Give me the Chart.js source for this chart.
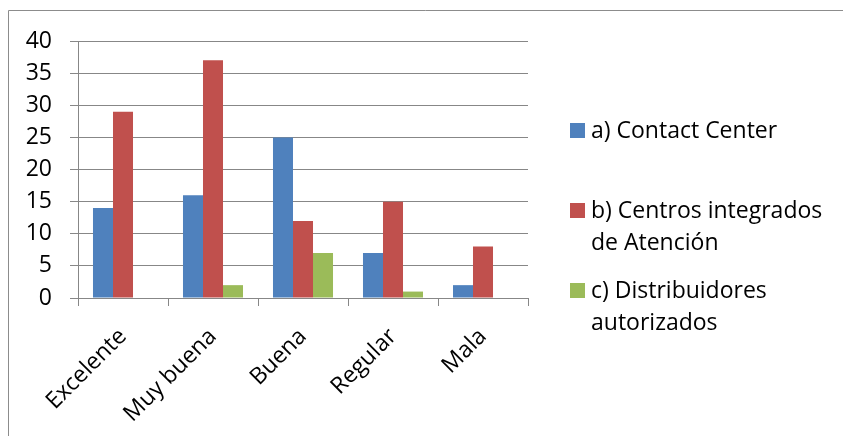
<!DOCTYPE html>
<html>
<head>
<meta charset="utf-8">
<script src="https://cdn.jsdelivr.net/npm/chart.js@4/dist/chart.umd.min.js"></script>
<style>
  html, body { margin: 0; padding: 0; background: #fff; }
  #wrap { position: relative; width: 843px; height: 436px; }
</style>
</head>
<body>
<div id="wrap"><canvas id="c" width="843" height="436"></canvas></div>
<script>
// Survey ratings per service channel
const categories = ['Excelente', 'Muy buena', 'Buena', 'Regular', 'Mala'];
const contactCenter = [14, 16, 25, 7, 2];
const centrosIntegrados = [29, 37, 12, 15, 8];
const distribuidores = [0, 2, 7, 1, 0];
const seriesNames = [
  ['a) Contact Center'],
  ['b) Centros integrados', 'de Atención'],
  ['c) Distribuidores', 'autorizados']
];
const yTicks = [0, 5, 10, 15, 20, 25, 30, 35, 40];

const colors = ['#4F81BD', '#C0504D', '#9BBB59'];
const FONT = '"Open Sans", sans-serif';
const FONT_SIZE = 23;
const gridColor = '#878787';

// Frame around the whole chart plus a legend with wrapped labels
const framePlugin = {
  id: 'frame',
  beforeDraw(chart) {
    const ctx = chart.ctx;
    ctx.save();
    ctx.strokeStyle = '#8c8c8c';
    ctx.lineWidth = 1;
    ctx.beginPath();
    ctx.moveTo(8.5, 436);
    ctx.lineTo(8.5, 10.5);
    ctx.lineTo(843, 10.5);
    ctx.stroke();
    ctx.restore();
  },
  afterDraw(chart) {
    const ctx = chart.ctx;
    ctx.save();
    ctx.font = FONT_SIZE + 'px ' + FONT;
    ctx.textBaseline = 'alphabetic';
    const squareTops = [123, 203, 283];
    const lineGap = 32;
    chart.data.datasets.forEach((ds, i) => {
      const top = squareTops[i];
      ctx.fillStyle = ds.backgroundColor;
      ctx.fillRect(570, top, 15, 15);
      ctx.fillStyle = '#000';
      seriesNames[i].forEach((line, j) => {
        ctx.fillText(line, 591, top + 15 + j * lineGap);
      });
    });
    ctx.restore();
  }
};

new Chart(document.getElementById('c'), {
  type: 'bar',
  data: {
    labels: categories,
    datasets: [
      { label: seriesNames[0].join(' '), data: contactCenter, backgroundColor: colors[0] },
      { label: seriesNames[1].join(' '), data: centrosIntegrados, backgroundColor: colors[1] },
      { label: seriesNames[2].join(' '), data: distribuidores, backgroundColor: colors[2] }
    ]
  },
  options: {
    responsive: false,
    animation: false,
    devicePixelRatio: 1,
    layout: { padding: { left: 0, top: 41, right: 315, bottom: 0 } },
    datasets: { bar: { barPercentage: 1, categoryPercentage: 0.667 } },
    plugins: { legend: { display: false }, tooltip: { enabled: false } },
    scales: {
      y: {
        min: 0,
        max: 40,
        afterFit(scale) { scale.width = 78; },
        afterBuildTicks(scale) { scale.ticks = yTicks.map(v => ({ value: v })); },
        ticks: { color: '#000', font: { family: FONT, size: FONT_SIZE }, padding: 18 },
        grid: { color: gridColor, lineWidth: 1, tickLength: 8, drawTicks: true },
        border: { color: gridColor, width: 1 }
      },
      x: {
        afterFit(scale) { scale.height = 138; },
        ticks: { color: '#000', font: { family: FONT, size: FONT_SIZE }, minRotation: 45, maxRotation: 45, padding: 17 },
        grid: { drawOnChartArea: false, drawTicks: true, tickLength: 8, color: gridColor, offset: true },
        border: { color: gridColor, width: 1 }
      }
    }
  },
  plugins: [framePlugin]
});
</script>
</body>
</html>
